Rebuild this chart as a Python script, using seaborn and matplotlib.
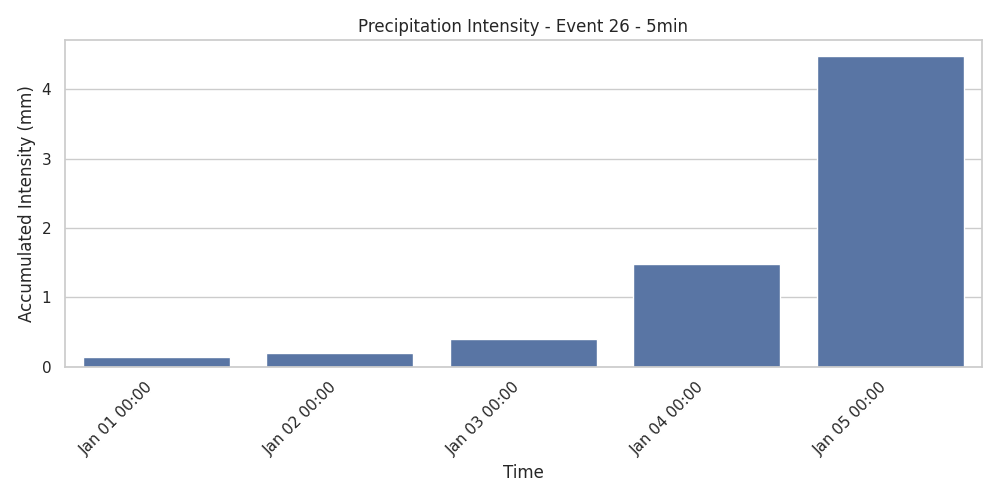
import matplotlib
matplotlib.use('Agg')
import matplotlib.pyplot as plt
import seaborn as sns
import pandas as pd

times = ['Jan 01 00:00', 'Jan 02 00:00', 'Jan 03 00:00', 'Jan 04 00:00', 'Jan 05 00:00']
intensity = [0.14, 0.2, 0.4, 1.48, 4.48]

df = pd.DataFrame({'Time': times, 'Intensity': intensity})

sns.set_theme(style='whitegrid')
plt.figure(figsize=(10, 5))
sns.barplot(x='Time', y='Intensity', data=df, color='#4c72b0')
plt.title('Precipitation Intensity - Event 26 - 5min')
plt.xlabel('Time')
plt.ylabel('Accumulated Intensity (mm)')
plt.xticks(rotation=45, ha='right')
plt.tight_layout()
plt.savefig('out.png', dpi=100)
